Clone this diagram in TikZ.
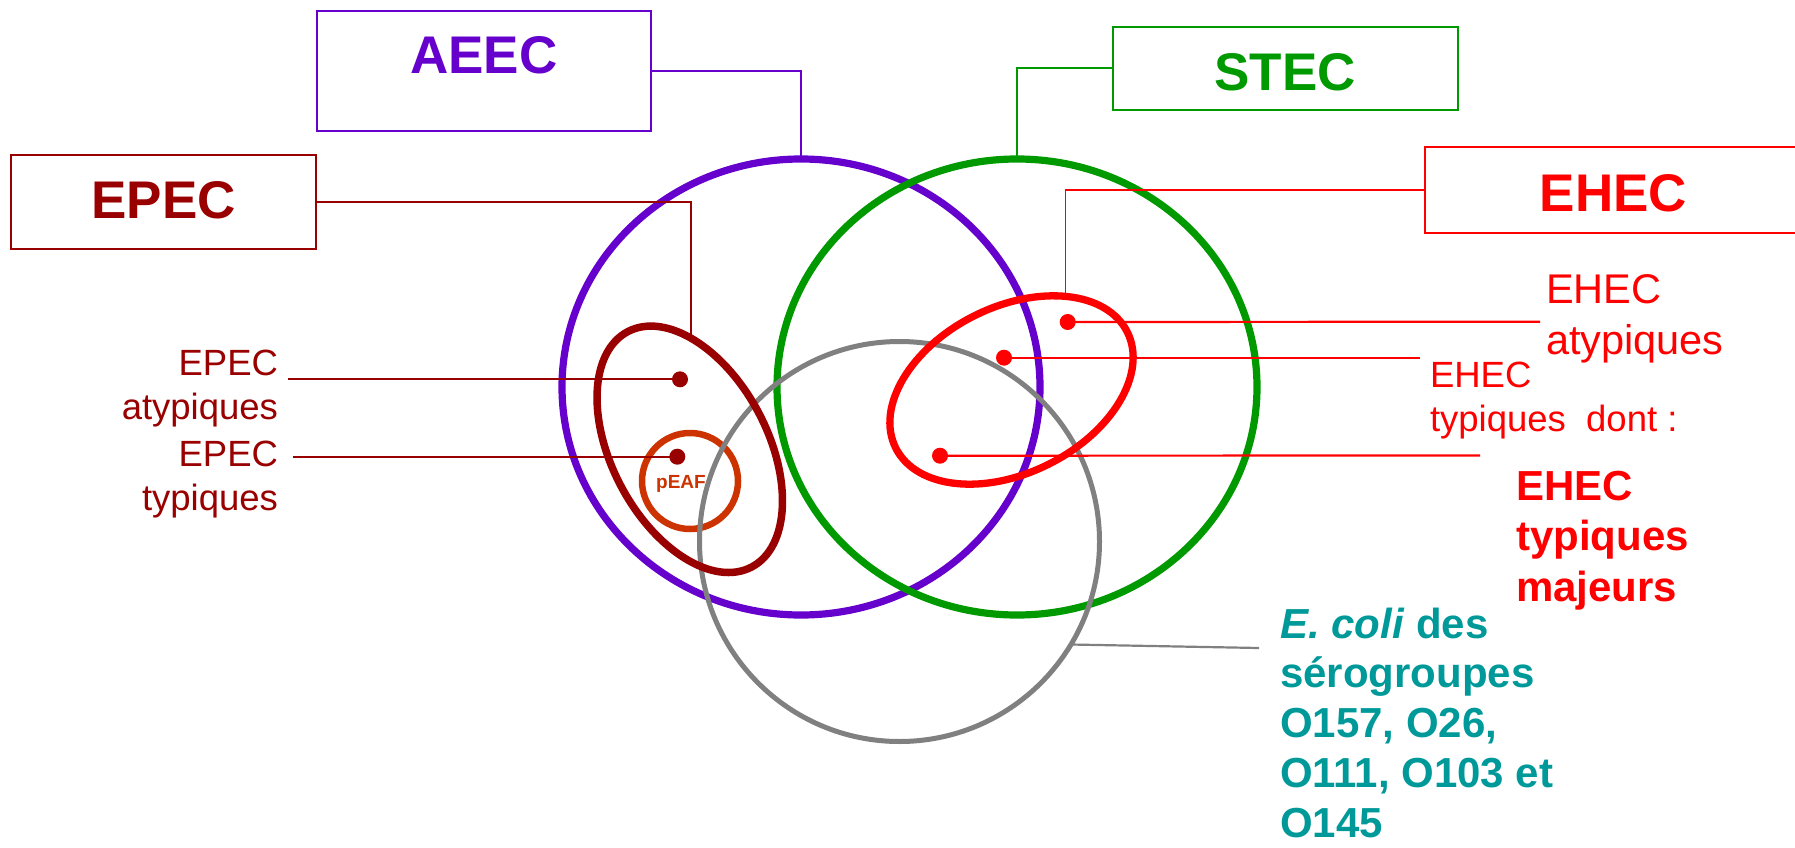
\documentclass[tikz,border=0pt]{standalone}
\usepackage{fontspec}
\setmainfont{Liberation Sans}
\usetikzlibrary{shapes.geometric}

\definecolor{aeecc}{HTML}{6600CC}
\definecolor{stecc}{HTML}{009900}
\definecolor{epecc}{HTML}{990000}
\definecolor{ehecc}{HTML}{FF0000}
\definecolor{peafc}{HTML}{CC3300}
\definecolor{ecolc}{HTML}{808080}
\definecolor{tealc}{HTML}{009999}

\tikzset{
  titlebox/.style={draw, line width=2pt, inner sep=0pt, outer sep=0pt,
    font=\bfseries\fontsize{53pt}{60pt}\selectfont},
  ring/.style={draw, fill=none, inner sep=0pt, outer sep=0pt},
  link/.style={line width=1.8pt},
  pointer/.style={line width=2.2pt},
  dot/.style={circle, inner sep=0pt, outer sep=0pt, minimum size=16pt},
  lbl/.style={inner sep=0pt, outer sep=0pt},
}

\begin{document}
\begin{tikzpicture}[x=1pt, y=1pt]
\useasboundingbox (0,0) rectangle (1795,-848);
\clip (0,0) rectangle (1795,-848);

% pathotype boxes
\node[titlebox, draw=aeecc, text=aeecc, minimum width=334pt,
      text height=63pt, text depth=57pt] (aeec) at (484,-71) {AEEC};
\node[titlebox, draw=stecc, text=stecc, minimum width=345pt,
      text height=64pt, text depth=19.3pt] (stec) at (1285,-68.35) {STEC};
\node[titlebox, draw=epecc, text=epecc, minimum width=305pt,
      text height=63pt, text depth=31pt] (epec) at (163.5,-202) {EPEC};
\node[titlebox, draw=ehecc, text=ehecc, minimum width=377pt,
      text height=65pt, text depth=21.6pt] (ehec) at (1613.6,-190) {EHEC};

% large sets
\node[ring, ellipse, draw=aeecc, line width=7.2pt, minimum width=478pt,
      minimum height=456pt] (aeecring) at (801,-387) {};
\node[ring, ellipse, draw=stecc, line width=7.2pt, minimum width=480pt,
      minimum height=456pt] (stecring) at (1017,-387) {};

% pEAF plasmid
\node[ring, circle, draw=peafc, line width=6.5pt, minimum size=96pt]
      (peafring) at (690,-481) {};
\node[lbl, anchor=base, text=peafc, font=\bfseries\fontsize{19pt}{22pt}\selectfont]
      (peaf) at (681,-488) {pEAF};

% serogroup set
\node[ring, circle, draw=ecolc, line width=5pt, minimum size=400pt]
      (ecolring) at (899.5,-541.5) {};

% EPEC and EHEC subsets
\node[ring, ellipse, draw=epecc, line width=7.5pt, minimum width=266pt,
      minimum height=156pt, rotate=-62.25] (epecring) at (689.75,-449.3) {};
\node[ring, ellipse, draw=ehecc, line width=7.3pt, minimum width=259pt,
      minimum height=166pt, rotate=26.6] (ehecring) at (1011.5,-390) {};

% points
\node[dot, fill=epecc] (dEPa) at (680,-379.3) {};
\node[dot, fill=epecc] (dEPt) at (677.3,-456.7) {};
\node[dot, fill=ehecc] (dEHa) at (1067.7,-322) {};
\node[dot, fill=ehecc] (dEHt) at (1004,-357.7) {};
\node[dot, fill=ehecc] (dEHm) at (940,-455.7) {};

% labels
\node[lbl, anchor=base east, text=epecc, font=\fontsize{36.5pt}{44.5pt}\selectfont]
      (lEPa) at (278,-375) {\begin{tabular}[t]{@{}r@{}}EPEC\\atypiques\end{tabular}};
\node[lbl, anchor=base east, text=epecc, font=\fontsize{36.5pt}{44.5pt}\selectfont]
      (lEPt) at (278,-466) {\begin{tabular}[t]{@{}r@{}}EPEC\\typiques\end{tabular}};
\node[lbl, anchor=base west, text=ehecc, font=\fontsize{41.5pt}{50.7pt}\selectfont]
      (lEHa) at (1546,-303.3) {\begin{tabular}[t]{@{}l@{}}EHEC\\atypiques\end{tabular}};
\node[lbl, anchor=base west, text=ehecc, font=\fontsize{36.5pt}{44pt}\selectfont]
      (lEHt) at (1430,-387.7) {\begin{tabular}[t]{@{}l@{}}EHEC\\typiques\ \ dont :\end{tabular}};
\node[lbl, anchor=base west, text=ehecc, font=\bfseries\fontsize{42pt}{50.8pt}\selectfont]
      (lEHm) at (1516,-500) {\begin{tabular}[t]{@{}l@{}}EHEC\\typiques\\majeurs\end{tabular}};
% last line sits on the lower edge: trim the strut depth of the block
\node[lbl, anchor=base west, text=tealc, font=\bfseries\fontsize{42pt}{49.8pt}\selectfont]
      (lEco) at (1280,-638) {\raisebox{0pt}[\height][\dimexpr\depth-15pt\relax]{%
        \begin{tabular}[t]{@{}l@{}}\textit{E. coli} des\\sérogroupes\\O157, O26,\\O111, O103 et\\O145\end{tabular}}};

% connector ends
\coordinate (epectip) at (690.7,-337);
\coordinate (ehectip) at (1065.5,-298);
\coordinate (eEPa) at (288.3,-379.3);
\coordinate (eEPt) at (292.7,-456.7);
\coordinate (eEHa) at (1540,-321.7);
\coordinate (eEHt) at (1420,-357.7);
\coordinate (eEHm) at (1480,-455.5);
\coordinate (eEco) at (1259,-648);

% box connectors
\draw[link, aeecc] (aeec.east) -| (aeecring.north);
\draw[link, stecc] (stec.west) -| (stecring.north);
\draw[link, epecc] (epec.east) -| (epectip);
\draw[link, ehecc] (ehec.west) -| (ehectip);

% label pointers
\draw[pointer, epecc] (eEPa) -- (dEPa.center);
\draw[pointer, epecc] (eEPt) -- (dEPt.center);
\draw[pointer, ehecc] (dEHa.center) -- (eEHa);
\draw[pointer, ehecc] (dEHt.center) -- (eEHt);
\draw[pointer, ehecc] (dEHm.center) -- (eEHm);
\draw[pointer, ecolc] (ecolring.-31) -- (eEco);
\end{tikzpicture}
\end{document}
